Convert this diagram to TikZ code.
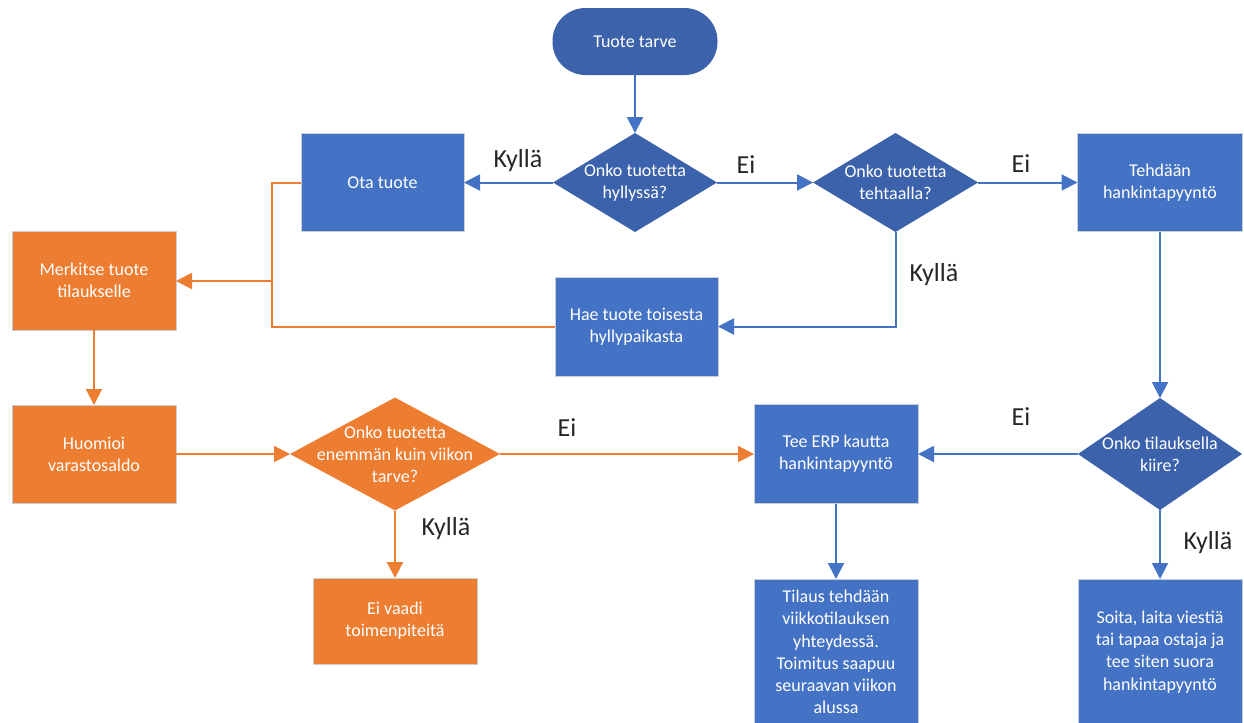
\documentclass[tikz,border=0pt]{standalone}
\usepackage{fontspec}
\setmainfont{Carlito}
\usetikzlibrary{arrows.meta,shapes.geometric}
\definecolor{boxblue}{HTML}{4472C4}
\definecolor{darkblue}{HTML}{3B62AB}
\definecolor{orng}{HTML}{ED7D31}
\definecolor{edgegray}{HTML}{C9CED6}
\newcommand\pxu{0.75pt}

\begin{document}
\begin{tikzpicture}[x=0.75pt,y=-0.75pt,
  every node/.style={inner sep=0pt,outer sep=0pt},
  boxtext/.style={text=white,align=center,font=\fontsize{13.5}{16.6}\selectfont},
  box/.style={rectangle,fill=boxblue,draw=edgegray,line width=0.75pt,boxtext},
  obox/.style={box,fill=orng},
  dia/.style={diamond,fill=darkblue},
  odia/.style={diamond,fill=orng},
  lbl/.style={font=\fontsize{19.5}{22}\selectfont,text=black!85},
  bline/.style={draw=boxblue,line width=1.5pt,-{Triangle[length=12pt,width=12pt]}},
  oline/.style={draw=orng,line width=1.5pt,-{Triangle[length=12pt,width=12pt]}},
  oplain/.style={draw=orng,line width=1.5pt}
]
\useasboundingbox (0,0) rectangle (1244,722);

% start terminal
\node[rectangle,rounded corners=33*\pxu,fill=darkblue,boxtext,
      minimum width=165*\pxu,minimum height=67*\pxu] (start) at (635,41.5) {Tuote tarve};

% decisions
\node[dia,minimum width=164*\pxu,minimum height=99*\pxu] (d1) at (635,182.5) {};
\node[boxtext] (d1t) at (d1) {Onko tuotetta\\hyllyssä?};
\node[dia,minimum width=165*\pxu,minimum height=99*\pxu] (d2) at (895.5,182.5) {};
\node[boxtext] (d2t) at (d2) {Onko tuotetta\\tehtaalla?};
\node[dia,minimum width=164*\pxu,minimum height=112*\pxu] (d4) at (1160,454) {};
\node[boxtext] (d4t) at (d4) {Onko tilauksella\\kiire?};
\node[odia,minimum width=210*\pxu,minimum height=113*\pxu] (d3) at (395,454) {};
\node[boxtext] (d3t) at (d3) {Onko tuotetta\\enemmän kuin viikon\\tarve?};

% process boxes
\node[box,minimum width=163*\pxu,minimum height=98*\pxu] (ota) at (382.5,182.5) {Ota tuote};
\node[box,minimum width=163*\pxu,minimum height=99*\pxu] (hae) at (636.5,326.5) {Hae tuote toisesta\\hyllypaikasta};
\node[box,minimum width=165*\pxu,minimum height=98*\pxu] (teh) at (1160,182.5) {Tehdään\\hankintapyyntö};
\node[box,minimum width=164*\pxu,minimum height=99*\pxu] (erp) at (836,454) {Tee ERP kautta\\hankintapyyntö};
\node[box,minimum width=164*\pxu,minimum height=146*\pxu] (tilaus) at (836,652) {Tilaus tehdään\\viikkotilauksen\\yhteydessä.\\Toimitus saapuu\\seuraavan viikon\\alussa};
\node[box,minimum width=164*\pxu,minimum height=146*\pxu] (soita) at (1160,652) {Soita, laita viestiä\\tai tapaa ostaja ja\\tee siten suora\\hankintapyyntö};

\node[obox,minimum width=164*\pxu,minimum height=99*\pxu] (merk) at (94,280.5) {Merkitse tuote\\tilaukselle};
\node[obox,minimum width=164*\pxu,minimum height=98*\pxu] (huom) at (94,454) {Huomioi\\varastosaldo};
\node[obox,minimum width=164*\pxu,minimum height=86*\pxu] (eivaadi) at (395,621) {Ei vaadi\\toimenpiteitä};

% blue connectors
\draw[bline] (start.south) -- (d1.north);
\draw[bline] (d1.west) -- (ota.east);
\draw[bline] (d1.east) -- (d2.west);
\draw[bline] (d2.east) -- (teh.west);
\draw[bline] (d2.south) |- (hae.east);
\draw[bline] (teh.south) -- (d4.north);
\draw[bline] (d4.west) -- (erp.east);
\draw[bline] (d4.south) -- (soita.north);
\draw[bline] (erp.south) -- (tilaus.north);

% orange connectors
\coordinate (join) at (272,281);
\draw[oplain] (ota.west) -| (join);
\draw[oplain] (hae.west) -| (join);
\draw[oline] (join) -- (merk.east |- join);
\draw[oline] (merk.south) -- (huom.north);
\draw[oline] (huom.east) -- (d3.west);
\draw[oline] (d3.east) -- (erp.west);
\draw[oline] (d3.south) -- (eivaadi.north);

% branch labels
\node[lbl] (l1) at (518,161) {Kyllä};
\node[lbl] (l2) at (746,165) {Ei};
\node[lbl] (l3) at (1021,164) {Ei};
\node[lbl] (l4) at (934,275) {Kyllä};
\node[lbl] (l5) at (1021,417) {Ei};
\node[lbl] (l6) at (1208,543) {Kyllä};
\node[lbl] (l7) at (567,428) {Ei};
\node[lbl] (l8) at (446,529) {Kyllä};
\end{tikzpicture}
\end{document}
